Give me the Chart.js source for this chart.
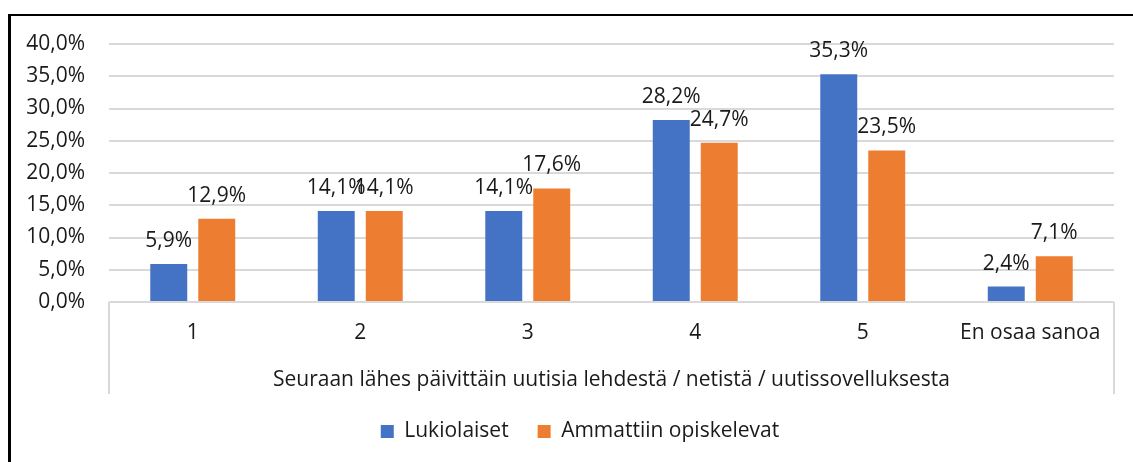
<!DOCTYPE html>
<html>
<head>
<meta charset="utf-8">
<script src="https://cdn.jsdelivr.net/npm/chart.js@4"></script>
<style>
  html, body { margin: 0; padding: 0; background: #fff; }
  #wrap { position: relative; width: 1133px; height: 462px; }
  #frame { position: absolute; left: 8px; top: 14px; width: 1140px; height: 460px;
           border-top: 2px solid #000; border-left: 3px solid #000; pointer-events: none; }
</style>
</head>
<body>
<div id="wrap">
  <canvas id="chart" width="1133" height="462"></canvas>
  <div id="frame"></div>
</div>
<script>
'use strict';

// categories and values
const categories = ['1', '2', '3', '4', '5', 'En osaa sanoa'];
const lukiolaiset = [5.9, 14.1, 14.1, 28.2, 35.3, 2.4];
const ammattiin = [12.9, 14.1, 17.6, 24.7, 23.5, 7.1];
const seriesNames = ['Lukiolaiset', 'Ammattiin opiskelevat'];
const axisTitle = 'Seuraan lähes päivittäin uutisia lehdestä / netistä / uutissovelluksesta';

const fontName = 'Open Sans';
const fontSize = 21;
const textColor = '#1a1a1a';
const gridColor = '#d9d9d9';

function pct(v) {
    return v.toFixed(1).replace('.', ',') + '%';
}

// value labels above the bars
const valueLabels = {
    id: 'valueLabels',
    afterDatasetsDraw(chart) {
        const ctx = chart.ctx;
        ctx.save();
        ctx.font = fontSize + 'px "' + fontName + '"';
        ctx.fillStyle = textColor;
        ctx.textAlign = 'center';
        ctx.textBaseline = 'middle';
        chart.data.datasets.forEach(function (ds, i) {
            const meta = chart.getDatasetMeta(i);
            meta.data.forEach(function (bar, j) {
                ctx.fillText(pct(ds.data[j]), bar.x, bar.y - 23);
            });
        });
        ctx.restore();
    }
};

// outer lines of the category axis box + nudge the legend like in the original
const axisBox = {
    id: 'axisBox',
    afterLayout(chart) {
        const lg = chart.legend;
        lg.left += 13;
        lg.right += 13;
        lg.top -= 2;
        lg.bottom -= 2;
    },
    afterDraw(chart) {
        const ctx = chart.ctx;
        const area = chart.chartArea;
        const x = chart.scales.x;
        ctx.save();
        ctx.strokeStyle = gridColor;
        ctx.lineWidth = 2;
        ctx.beginPath();
        ctx.moveTo(area.left, area.bottom);
        ctx.lineTo(area.left, x.bottom);
        ctx.moveTo(area.right, area.bottom);
        ctx.lineTo(area.right, x.bottom);
        ctx.stroke();
        ctx.restore();
    }
};

const context = document.getElementById('chart').getContext('2d');

const chart = new Chart(context, {
    type: 'bar',
    data: {
        labels: categories,
        datasets: [
            {
                label: seriesNames[0],
                data: lukiolaiset,
                backgroundColor: '#4472C4',
                categoryPercentage: 0.573,
                barPercentage: 0.77
            },
            {
                label: seriesNames[1],
                data: ammattiin,
                backgroundColor: '#ED7D31',
                categoryPercentage: 0.573,
                barPercentage: 0.77
            }
        ]
    },
    options: {
        responsive: false,
        animation: false,
        layout: { padding: { left: 20, right: 19, top: 44, bottom: 8 } },
        plugins: {
            tooltip: { enabled: false },
            legend: {
                position: 'bottom',
                labels: {
                    font: { family: fontName, size: fontSize },
                    color: textColor,
                    boxWidth: 13,
                    boxHeight: 13,
                    padding: 29
                }
            }
        },
        scales: {
            x: {
                afterFit(scale) { scale.height = 92; },
                grid: { display: false, drawTicks: false },
                border: { display: false },
                ticks: {
                    font: { family: fontName, size: fontSize },
                    color: textColor,
                    padding: 18,
                    maxRotation: 0
                },
                title: {
                    display: true,
                    text: axisTitle,
                    font: { family: fontName, size: fontSize },
                    color: textColor,
                    padding: { top: 23, bottom: 1 }
                }
            },
            y: {
                min: 0,
                max: 40,
                afterFit(scale) { scale.width = 89; },
                grid: { color: gridColor, lineWidth: 2, drawTicks: false },
                border: { display: false },
                ticks: {
                    stepSize: 5,
                    font: { family: fontName, size: fontSize },
                    color: textColor,
                    padding: 24,
                    callback: function (v) { return pct(v); }
                }
            }
        }
    },
    plugins: [valueLabels, axisBox]
});
</script>
</body>
</html>
